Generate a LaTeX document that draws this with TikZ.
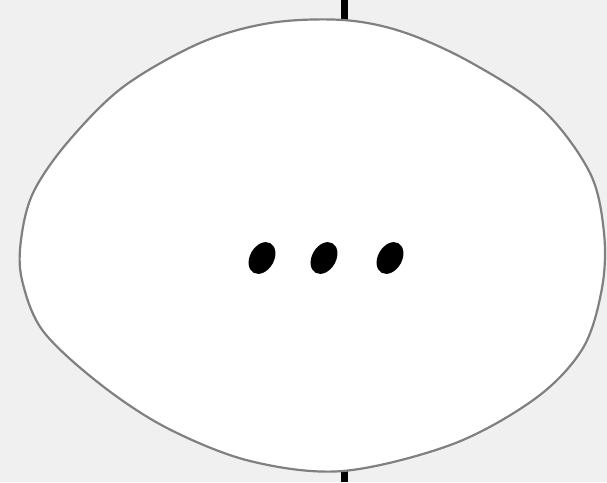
\documentclass[tikz,border=0pt]{standalone}
\begin{document}
\begin{tikzpicture}[x=1pt,y=-1pt,
  blob/.style={draw=black!50,line width=2.2pt,fill=white},
  stub/.style={draw=black,line width=7pt},
  dotmark/.style={fill=black}]
\fill[black!6] (0,0) rectangle (607,482);
\useasboundingbox (0,0) rectangle (607,482);
\coordinate (topend) at (344,0);
\coordinate (botend) at (344,482);
\draw[stub] (topend) -- (344,22);
\draw[stub] (botend) -- (344,465);
\draw[blob] plot[smooth cycle,tension=0.55] coordinates {
 (343,20) (403,32) (470,62) (543,110) (590,173) (604,233) (602,288)
 (583,348) (536,398) (453,444) (343,471) (250,461) (167,428) (100,384)
 (43,331) (22,280) (21,240) (33,193) (67,143) (123,87) (200,43) (270,23)};
\foreach \cx/\n in {262/a,324/b,390/c}{
  \fill[dotmark,rotate around={60:(\cx,258)}] (\cx,258) ellipse (17 and 12);
}
\end{tikzpicture}
\end{document}
